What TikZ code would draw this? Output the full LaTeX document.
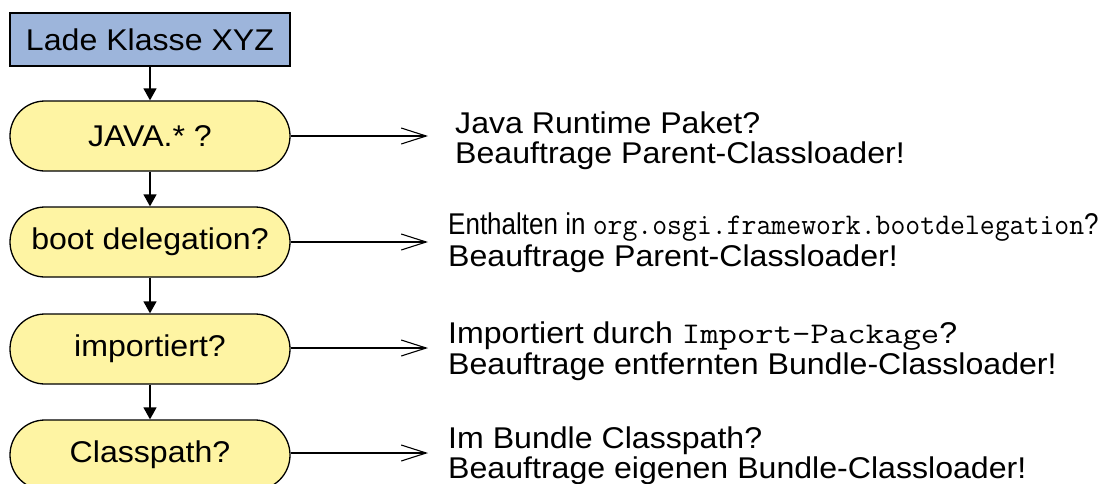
\documentclass[tikz,border=0pt]{standalone}
\usepackage{fontspec}
\setmainfont{Liberation Sans}[FakeStretch=1.07]
\usetikzlibrary{arrows.meta}
\definecolor{boxblue}{RGB}{157,181,219}
\definecolor{capyellow}{RGB}{254,244,163}
\newcommand\monotxt[1]{\scalebox{1.19}[1]{\ttfamily #1}}
\begin{document}
\begin{tikzpicture}[x=1pt,y=1pt,
  every node/.style={font=\fontsize{30}{30.5}\selectfont},
  startbox/.style={draw=black, line width=1.3pt, fill=boxblue, minimum width=280pt, minimum height=53pt, inner sep=0pt},
  capsule/.style={draw=black, line width=1.3pt, fill=capyellow, rounded corners=35pt, minimum width=280pt, minimum height=70pt, inner sep=0pt},
  flow/.style={line width=1.3pt, -{Triangle[length=12pt,width=13pt]}},
  side/.style={line width=1.1pt, -{Straight Barb[length=25pt,width=16pt,line width=1.1pt]}},
  txt/.style={anchor=base west, inner sep=0pt}]
\clip (0,0) rectangle (1118,-483);
\useasboundingbox (0,0) rectangle (1118,-483);

\node[startbox] (start) at (150,-39.5) {Lade Klasse XYZ};
\node[capsule] (java) at (150,-136) {JAVA.* ?};
\node[capsule] (boot) at (150,-242) {boot delegation?};
\node[capsule] (imp) at (150,-349) {importiert?};
\node[capsule] (cp) at (150,-455) {Classpath?};

\draw[flow] (start.south) -- (java.north);
\draw[flow] (java.south) -- (boot.north);
\draw[flow] (boot.south) -- (imp.north);
\draw[flow] (imp.south) -- (cp.north);

\coordinate (e1) at (428,-136);
\coordinate (e2) at (428,-242);
\coordinate (e3) at (428,-348);
\coordinate (e4) at (428,-453);
\draw[side] (java.east) -- (e1);
\draw[side] (boot.east) -- (e2);
\draw[side] (imp.east |- e3) -- (e3);
\draw[side] (cp.east |- e4) -- (e4);

\node[txt] (t1a) at (455,-133) {Java Runtime Paket?};
\node[txt] (t1b) at (455,-163) {Beauftrage Parent-Classloader!};
\node[txt] (t2a) at (448,-234) {\scalebox{0.81}[1]{Enthalten in \monotxt{org.osgi.framework.bootdelegation}?}};
\node[txt] (t2b) at (448,-266) {Beauftrage Parent-Classloader!};
\node[txt] (t3a) at (448,-343) {Importiert durch \monotxt{Import-Package}?};
\node[txt] (t3b) at (448,-374) {Beauftrage entfernten Bundle-Classloader!};
\node[txt] (t4a) at (448,-448) {Im Bundle Classpath?};
\node[txt] (t4b) at (448,-478) {Beauftrage eigenen Bundle-Classloader!};
\end{tikzpicture}
\end{document}
